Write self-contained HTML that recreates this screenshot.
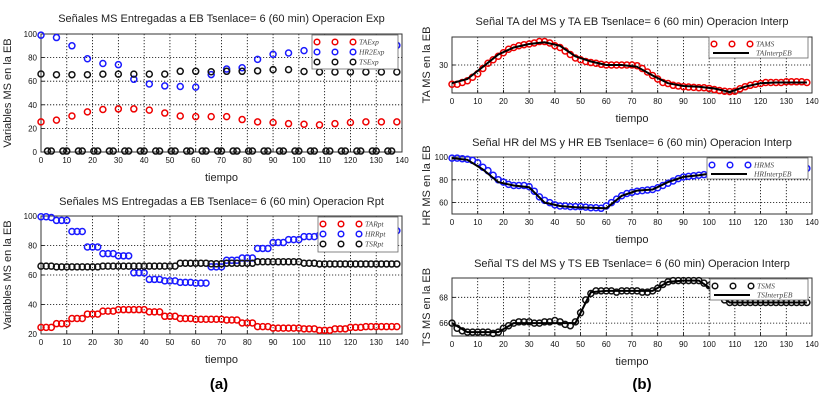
<!DOCTYPE html>
<html><head><meta charset="utf-8"><style>
html,body{margin:0;padding:0;background:#fff;}
svg{display:block;font-family:"Liberation Sans",sans-serif;}
.t{font-size:11px;fill:#222}
.k{font-size:8px;fill:#111}
.lg{font-family:"Liberation Serif",serif;font-style:italic;font-size:7.5px;fill:#444}
</style></head><body>
<svg id="fig" width="836" height="408" viewBox="0 0 836 408" xmlns="http://www.w3.org/2000/svg"></svg>
<script>
// ---- Panel (a) top: Exp (every 6 units)
const expTime = [0,6,12,18,24,30,36,42,48,54,60,66,72,78,84,90,96,102,108,114,120,126,132,138];
const expTA = [25.5,27,30.5,34,36,36.5,36.5,35.5,33,30.5,30,30,30,27.5,25.5,25,24,23.5,23,24,25,25.5,25.5,25.5];
const expHR = [99,97,90,79,75,74,61.6,57.6,56,55.5,55,65.6,70.3,71.4,78.5,82.8,83.9,85.9,87,88,89,89.5,90,90.4];
const expTS = [66.1,65.5,65.5,65.5,66,66,66,66,66,68.4,68.4,68,68.4,68.4,68.8,69.8,69.8,68.2,67.8,67.8,67.8,67.8,67.8,67.8];
const zeroTime = [2.5,4,8.5,10,14.5,16,20.5,22,26.5,28,32.5,34,38.5,40,44.5,46,50.5,52,56.5,58,62.5,64,68.5,70,74.5,76,80.5,82,86.5,88,92.5,94,98.5,100,104.5,106,110.5,112,116.5,118,122.5,124,128.5,130,134.5,136];
const zeroVal = [0.8];
// ---- Panel (a) bottom: Rpt (every 2 units)
const rptTime = [0,2,4,6,8,10,12,14,16,18,20,22,24,26,28,30,32,34,36,38,40,42,44,46,48,50,52,54,56,58,60,62,64,66,68,70,72,74,76,78,80,82,84,86,88,90,92,94,96,98,100,102,104,106,108,110,112,114,116,118,120,122,124,126,128,130,132,134,136,138];
const rptTA = [24.5,24.5,24.5,27,27,27,30.5,30.5,30.5,33.5,33.5,33.5,35.5,35.5,35.5,36.5,36.5,36.5,36.5,36.5,36.5,35,35,35,32,32,32,30.5,30.5,30.5,30,30,30,30,30,30,29.5,29.5,29.5,27.5,27.5,27.5,25,25,25,24,24,24,24,24,24,23.5,23.5,23.5,22.5,22.5,22.5,23.5,23.5,23.5,24.5,24.5,24.5,25,25,25,25,25,25,25];
const rptHR = [99.5,99.5,99,97,97,97,89.5,89.5,89.5,79,79,79,74.5,74.5,74.5,73,73,73,61.5,61.5,61.5,57,57,57,56,56,56,55,55,55,54.5,54.5,54.5,65.5,65.5,65.5,70,70,70,71.5,71.5,71.5,78,78,78,82,82,82,84,84,84,86,86,86,87,87,87,88,88,88,89,89,89,89.5,89.5,89.5,90,90,90,90];
const rptTS = [66,66,66,65.5,65.5,65.5,65.5,65.5,65.5,65.5,65.5,65.5,66,66,66,66,66,66,66,66,66,66,66,66,66,66,66,68,68,68,68,68,68,67.6,67.6,67.6,68,68,68,68,68,68,69,69,69,69,69,69,69,69,69,68,68,68,67.5,67.5,67.5,67.5,67.5,67.5,67.5,67.5,67.5,67.5,67.5,67.5,67.5,67.5,67.5,67.5];
// ---- Panel (b): interp
const msTA = [24.5,24.5,25,25.5,26.5,27.5,29,30.5,31.5,32.5,33.5,34.5,35,35.5,35.8,36,36.3,36.7,36.7,36.3,35.5,35,34,33,32,31.5,31,30.7,30.5,30.2,30,30,30,30,30,30,29.8,29,28,27,26,25,24.7,24.2,24,23.8,23.7,23.6,23.5,23.5,23.3,23,22.7,22.5,22.4,22.5,23.2,23.8,24.2,24.5,24.7,25,25,25,25,25.2,25.2,25.2,25.2,25];
const ebTA = [24.8,26,29.5,33,35,36,36.5,35.5,32.5,31,30,30,29.5,27,24.8,24,23.8,23.3,22.3,23.8,24.8,25,25,25];
const msHR = [99,99,98.5,98,97,95,91,88,84,80,78,76,75,75,75,74,70,65,62,60,58,57,57,56.5,56.5,56.5,56,55.5,55.5,55,57,60,63,66,68,69,70,70.5,71,71.5,73,75,77,79,81,82.5,83,83.5,84,84.5,85,85.5,86,86.5,87,87,87.5,88,88,88.5,89,89,89.5,89.5,89.5,90,90,90,90,90];
const ebHR = [99,97.5,89,78,75,73.5,60,57,56,55.5,55,66,70.5,71.5,78,82.5,84,86,87,88,89,89.5,90,90];
const msTS = [66,65.6,65.4,65.3,65.3,65.3,65.3,65.3,65.2,65.3,65.6,65.8,66,66.1,66.1,66.1,66,66,66.1,66.1,66.2,66.1,65.9,65.8,66.1,66.8,67.8,68.3,68.5,68.5,68.5,68.5,68.4,68.5,68.5,68.5,68.5,68.4,68.4,68.5,68.7,69,69.2,69.3,69.3,69.3,69.3,69.3,69.3,69.1,68.9,68.7,68.2,67.8,67.6,67.6,67.6,67.6,67.6,67.6,67.6,67.6,67.6,67.6,67.6,67.6,67.6,67.6,67.6,67.6];
const ebTS = [66,65.3,65.3,65.3,66,66,66,66,66,68.4,68.5,68.5,68.5,68.5,69.2,69.3,69.3,68.5,67.6,67.6,67.6,67.6,67.6,67.6];
const xTicks = [0,10,20,30,40,50,60,70,80,90,100,110,120,130,140];

const NS = 'http://www.w3.org/2000/svg';
const fig = document.getElementById('fig');
function el(tag, attrs, parent, text){
  const e = document.createElementNS(NS, tag);
  for (const k in attrs) e.setAttribute(k, attrs[k]);
  if (text !== undefined) e.textContent = text;
  (parent || fig).appendChild(e);
  return e;
}
function panel(p){
  const g = el('g', {});
  
  
  const sx = v => p.x0 + (v - 0) / 140 * (p.x1 - p.x0);
  const sy = v => p.y1 - (v - p.ymin) / (p.ymax - p.ymin) * (p.y1 - p.y0);
  p.sx = sx; p.sy = sy; p.g = g;
  // grid
  xTicks.forEach(t => {
    if (t > 0 && t < 140) {
      const gl = el('line', {x1:sx(t), x2:sx(t), y1:p.y0, y2:p.y1, stroke:'#000', 'stroke-width':0.8, 'stroke-dasharray':'1.2,1.8'}, g);
      
      
    }
    const tk = el('line', {x1:sx(t), x2:sx(t), y1:p.y1, y2:p.y1-3, stroke:'#000', 'stroke-width':0.8}, g);
    
    
    const tl = el('text', {x:sx(t), y:p.y1+11, 'text-anchor':'middle', class:'k'}, g, String(t));
    
    
  });
  p.yTicks.forEach(v => {
    const yy = sy(v);
    if (yy > p.y0 + 1 && yy < p.y1 - 1) {
      const gl = el('line', {x1:p.x0, x2:p.x1, y1:yy, y2:yy, stroke:'#000', 'stroke-width':0.8, 'stroke-dasharray':'1.2,1.8'}, g);
      
      
    }
    const tk = el('line', {x1:p.x0, x2:p.x0+3, y1:yy, y2:yy, stroke:'#000', 'stroke-width':0.8}, g);
    
    
    const tl = el('text', {x:p.x0-4, y:yy+3, 'text-anchor':'end', class:'k'}, g, String(v));
    
    
  });
  const fr = el('rect', {x:p.x0, y:p.y0, width:p.x1-p.x0, height:p.y1-p.y0, fill:'none', stroke:'#333', 'stroke-width':1}, g);
  
  
  const ti = el('text', {x:(p.x0+p.x1)/2, y:p.titleY, 'text-anchor':'middle', class:'t'}, g, p.title);
  
  
  const xl = el('text', {x:(p.x0+p.x1)/2, y:p.y1+29, 'text-anchor':'middle', class:'t', 'font-size':'10'}, g, 'tiempo');
  
  
  const yc = (p.y0+p.y1)/2;
  const yl = el('text', {x:p.ylX, y:yc, 'text-anchor':'middle', class:'t', 'font-size':'9.5', transform:'rotate(-90 '+p.ylX+' '+yc+')'}, g, p.ylabel);
  
  
  return p;
}
function circles(p, xs, ys, color, name){
  const g = el('g', {}, p.g);
  
  
  xs.forEach((t, i) => {
    const v = ys.length === 1 ? ys[0] : ys[i];
    const c = el('circle', {cx:p.sx(t), cy:p.sy(v), r:3, fill:'none', stroke:color, 'stroke-width':1.5}, g);
    
    
  });
}
function line(p, xs, ys, name){
  const d = xs.map((t,i) => (i?'L':'M') + p.sx(t).toFixed(1) + ',' + p.sy(ys[i]).toFixed(1)).join('');
  const l = el('path', {d:d, fill:'none', stroke:'#000', 'stroke-width':2}, p.g);
  
  
}
function legend(p, bx, by, bw, bh, rows){
  const g = el('g', {}, p.g);
  
  
  el('rect', {x:bx, y:by, width:bw, height:bh, fill:'#fff', stroke:'#666', 'stroke-width':0.8}, g);
  rows.forEach((r, i) => {
    const yy = by + 7 + i * r.dy;
    const eg = el('g', {}, g);
    
    
    if (r.line) el('line', {x1:bx+4, x2:bx+40, y1:yy, y2:yy, stroke:'#000', 'stroke-width':2}, eg);
    else [4,22,40].forEach(o => el('circle', {cx:bx+o+1, cy:yy, r:2.8, fill:'none', stroke:r.color, 'stroke-width':1.5}, eg));
    el('text', {x:bx+47, y:yy+2.5, class:'lg'}, eg, r.label);
  });
}

// (a) top
const pA = panel({name:'exp-chart', x0:41, x1:402, y0:34, y1:152, ymin:0, ymax:100, yTicks:[0,20,40,60,80,100], titleY:22, title:'Señales MS Entregadas a EB Tsenlace= 6 (60 min) Operacion Exp', ylabel:'Variables MS en la EB', ylX:11});
circles(pA, zeroTime, zeroVal, '#111', 'zero-series');
circles(pA, expTime, expTA, '#e00', 'series-ta-exp');
circles(pA, expTime, expHR, '#1a1aff', 'series-hr-exp');
circles(pA, expTime, expTS, '#111', 'series-ts-exp');
legend(pA, 312, 35, 86, 34, [{color:'#e00',label:'TAExp',dy:10},{color:'#1a1aff',label:'HR2Exp',dy:10},{color:'#111',label:'TSExp',dy:10}]);

// (a) bottom
const pB = panel({name:'rpt-chart', x0:41, x1:402, y0:216, y1:334, ymin:20, ymax:100, yTicks:[20,40,60,80,100], titleY:205, title:'Señales MS Entregadas a EB Tsenlace= 6 (60 min) Operacion Rpt', ylabel:'Variables MS en la EB', ylX:11});
circles(pB, rptTime, rptTA, '#e00', 'series-ta-rpt');
circles(pB, rptTime, rptHR, '#1a1aff', 'series-hr-rpt');
circles(pB, rptTime, rptTS, '#111', 'series-ts-rpt');
legend(pB, 318, 217, 80, 35, [{color:'#e00',label:'TARpt',dy:10},{color:'#1a1aff',label:'HRRpt',dy:10},{color:'#111',label:'TSRpt',dy:10}]);

// (b)
const pC = panel({name:'ta-interp-chart', x0:452, x1:812, y0:37, y1:93, ymin:22, ymax:38, yTicks:[30], titleY:25, title:'Señal TA del MS y TA EB Tsenlace= 6 (60 min) Operacion Interp', ylabel:'TA MS en la EB', ylX:430});
circles(pC, rptTime, msTA, '#e00', 'series-ta-ms');
line(pC, expTime, ebTA, 'series-ta-interp-eb');
legend(pC, 709, 37, 99, 21, [{color:'#e00',label:'TAMS',dy:9},{line:true,label:'TAInterpEB',dy:9}]);

const pD = panel({name:'hr-interp-chart', x0:452, x1:812, y0:157, y1:214, ymin:50, ymax:100, yTicks:[60,80,100], titleY:146, title:'Señal HR del MS y HR EB Tsenlace= 6 (60 min) Operacion Interp', ylabel:'HR MS en la EB', ylX:430});
circles(pD, rptTime, msHR, '#1a1aff', 'series-hr-ms');
line(pD, expTime, ebHR, 'series-hr-interp-eb');
legend(pD, 707, 158, 101, 21, [{color:'#1a1aff',label:'HRMS',dy:9},{line:true,label:'HRInterpEB',dy:9}]);

const pE = panel({name:'ts-interp-chart', x0:452, x1:812, y0:278, y1:336, ymin:65, ymax:69.5, yTicks:[66,68], titleY:267, title:'Señal TS del MS y TS EB Tsenlace= 6 (60 min) Operacion Interp', ylabel:'TS MS en la EB', ylX:430});
circles(pE, rptTime, msTS, '#111', 'series-ts-ms');
line(pE, expTime, ebTS, 'series-ts-interp-eb');
legend(pE, 710, 279, 98, 21, [{color:'#111',label:'TSMS',dy:9},{line:true,label:'TSInterpEB',dy:9}]);

const la = el('text', {x:219, y:389, 'text-anchor':'middle', 'font-size':'15', 'font-weight':'bold', fill:'#000'}, fig, '(a)');


const lb = el('text', {x:642, y:389, 'text-anchor':'middle', 'font-size':'15', 'font-weight':'bold', fill:'#000'}, fig, '(b)');


</script>
</body></html>
